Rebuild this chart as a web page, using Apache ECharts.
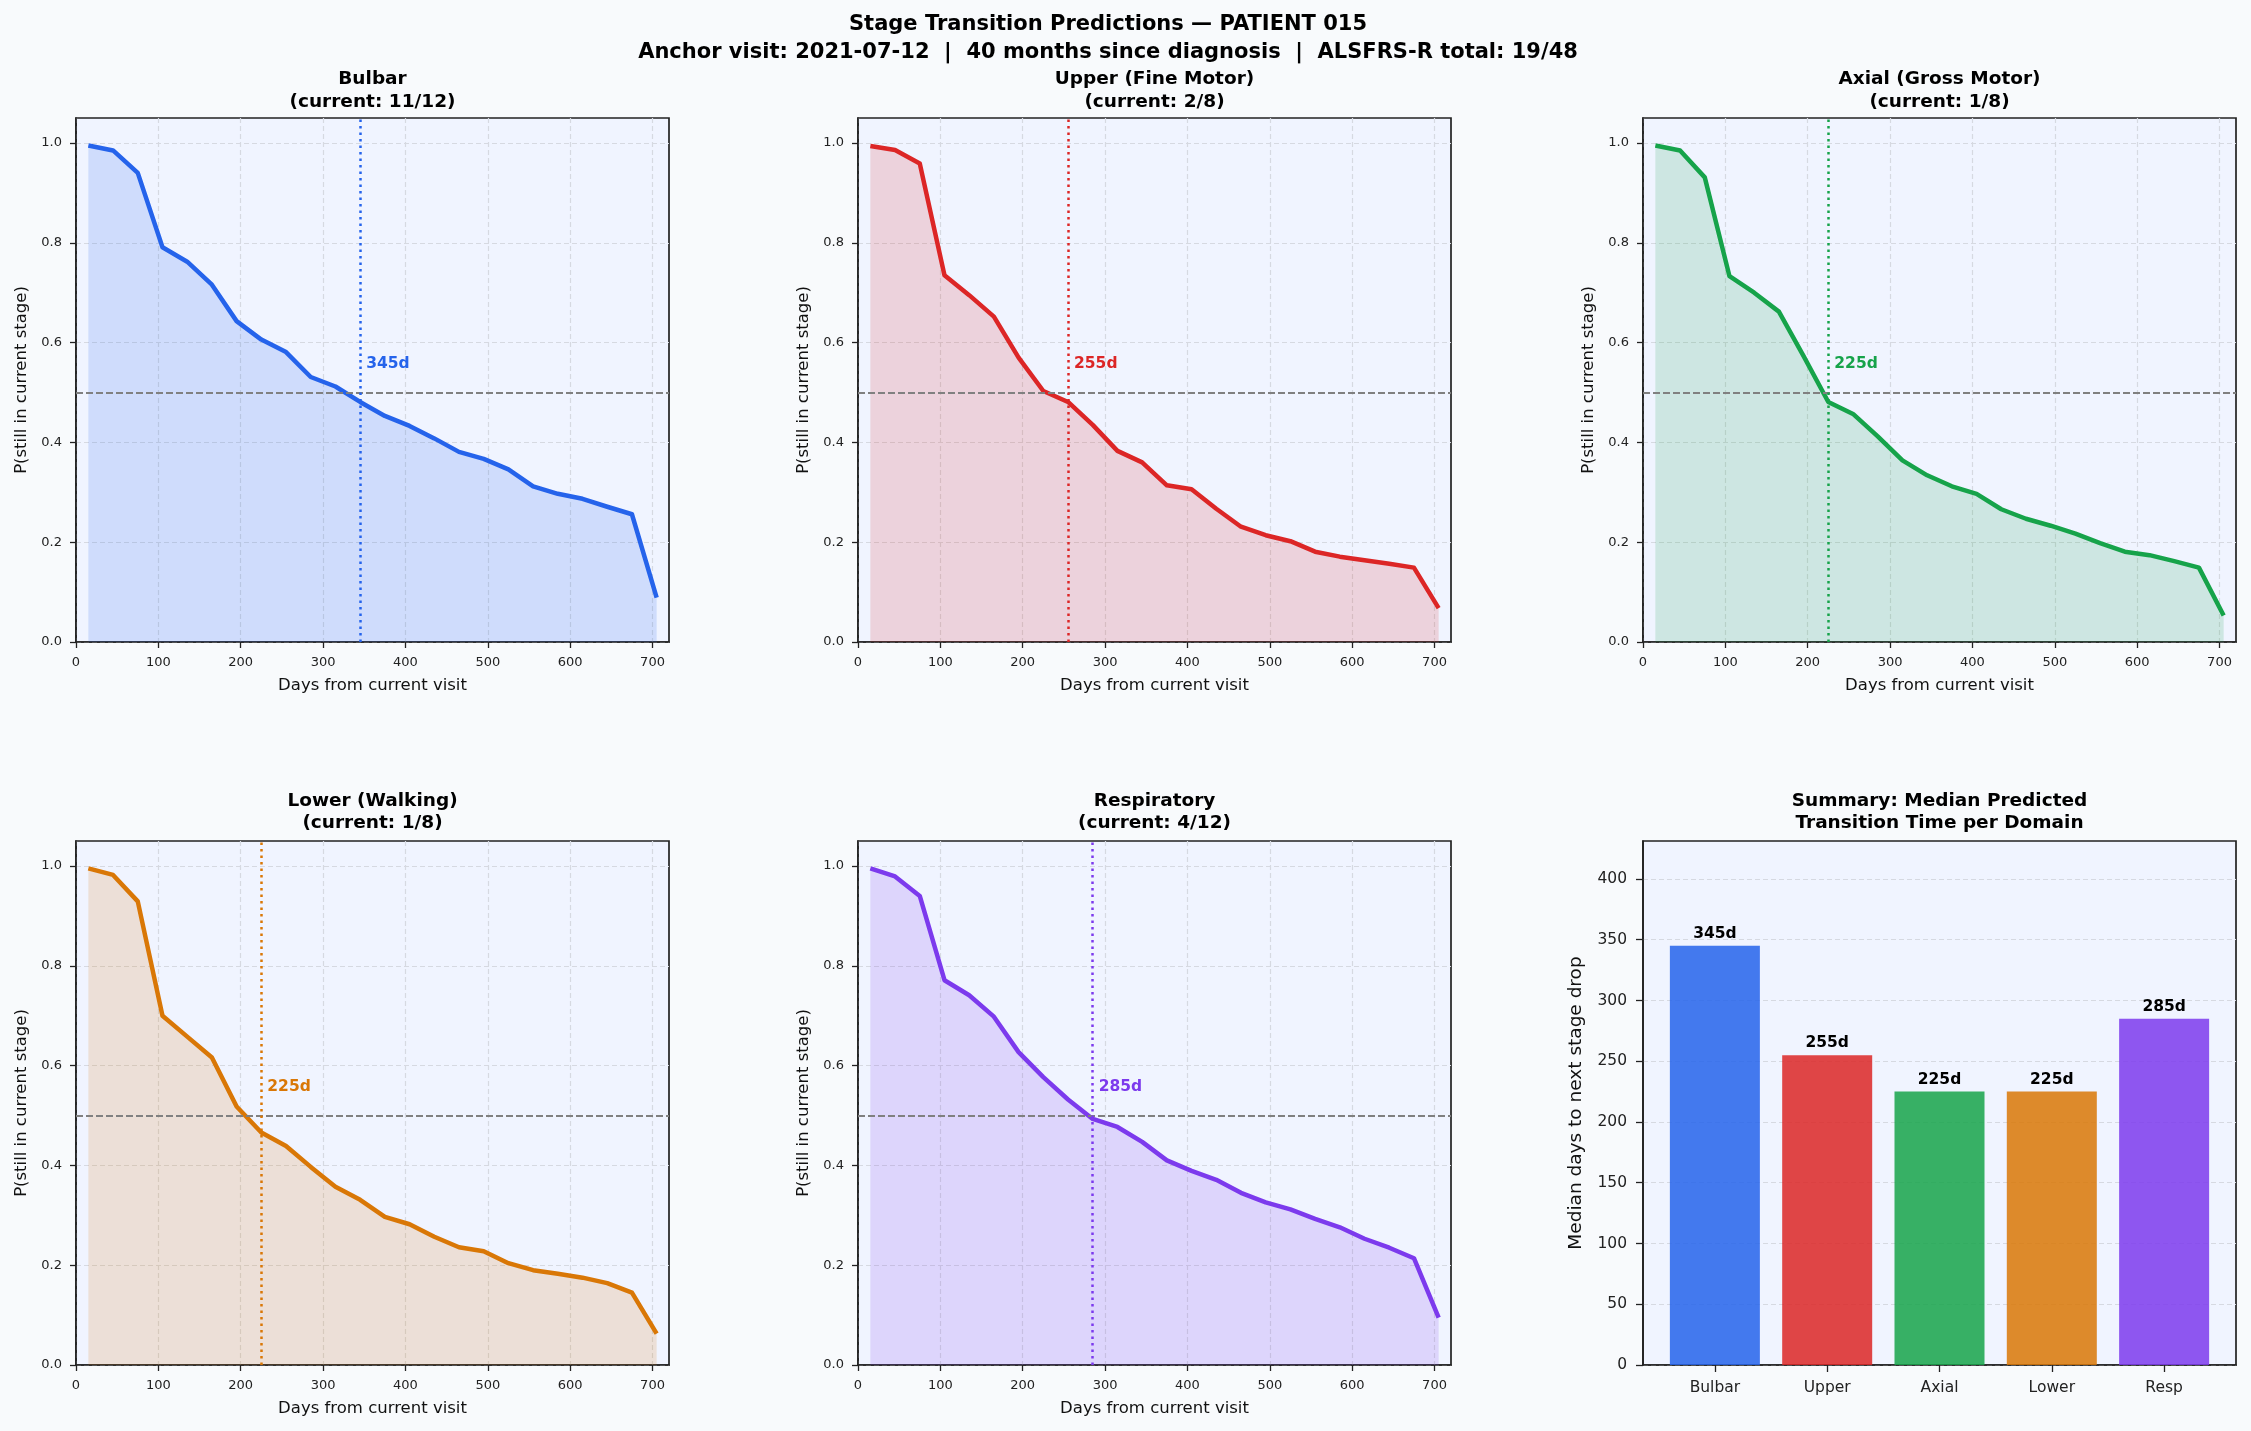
<!DOCTYPE html>
<html>
<head>
<meta charset="utf-8">
<script src="https://cdn.jsdelivr.net/npm/echarts@6/dist/echarts.min.js"></script>
<style>
html,body{margin:0;padding:0;background:#f8fafc;}
#chart{width:2251px;height:1431px;}
</style>
</head>
<body>
<div id="chart"></div>
<script>
// ---------------- DATA ----------------
const days = [15,45,75,105,135,165,195,225,255,285,315,345,375,405,435,465,495,525,555,585,615,645,675,705];
const bulbar = [0.995,0.985,0.940,0.791,0.762,0.716,0.643,0.606,0.581,0.531,0.512,0.481,0.453,0.433,0.408,0.381,0.367,0.346,0.312,0.297,0.287,0.271,0.256,0.089];
const upper  = [0.994,0.986,0.959,0.735,0.695,0.652,0.570,0.503,0.481,0.435,0.383,0.360,0.314,0.306,0.267,0.231,0.214,0.202,0.181,0.171,0.164,0.157,0.149,0.068];
const axial  = [0.995,0.985,0.931,0.733,0.700,0.662,0.573,0.481,0.457,0.412,0.364,0.334,0.312,0.297,0.266,0.247,0.233,0.217,0.198,0.181,0.174,0.162,0.149,0.053];
const lower  = [0.995,0.982,0.929,0.700,0.658,0.616,0.518,0.466,0.439,0.397,0.357,0.331,0.297,0.282,0.257,0.236,0.228,0.204,0.190,0.183,0.175,0.164,0.145,0.063];
const resp   = [0.995,0.979,0.940,0.771,0.741,0.698,0.627,0.577,0.532,0.493,0.477,0.447,0.410,0.389,0.371,0.345,0.326,0.312,0.293,0.276,0.253,0.235,0.214,0.095];
const medians = [345,255,225,225,285];
const domainNames = ['Bulbar','Upper','Axial','Lower','Resp'];
const panelNames = ['Bulbar','Upper (Fine Motor)','Axial (Gross Motor)','Lower (Walking)','Respiratory'];
const currentScores = ['11/12','2/8','1/8','1/8','4/12'];
const xTicks = [0,100,200,300,400,500,600,700];
const yTicks = [0,0.2,0.4,0.6,0.8,1.0];
const barTicks = [0,50,100,150,200,250,300,350,400];
const threshold = 0.5;
const annotY = 0.558;
const suptitle1 = 'Stage Transition Predictions \u2014 PATIENT 015';
const suptitle2 = 'Anchor visit: 2021-07-12  |  40 months since diagnosis  |  ALSFRS-R total: 19/48';
const barTitle = ['Summary: Median Predicted','Transition Time per Domain'];

// ---------------- STYLE ----------------
const series5 = [bulbar, upper, axial, lower, resp];
const COLORS = ['#2563eb','#dc2626','#16a34a','#d97706','#7c3aed'];
const FONT = '"DejaVu Sans", Verdana, sans-serif';
function rgba(hex, a){
  const r=parseInt(hex.slice(1,3),16), g=parseInt(hex.slice(3,5),16), b=parseInt(hex.slice(5,7),16);
  return 'rgba('+r+','+g+','+b+','+a+')';
}
const colLeft = [76, 858, 1643];
const colW = 593;
const rowTop = [118, 841];
const rowH = 524;
const gridPos = [[0,0],[0,1],[0,2],[1,0],[1,1],[1,2]];
const grids = gridPos.map(([r,c]) => ({
  left: colLeft[c], top: rowTop[r], width: colW, height: rowH,
  show: true, backgroundColor: '#f0f4ff', borderColor: '#222', borderWidth: 1.7,
  containLabel: false, outerBoundsMode: 'none'
}));

const axisLineStyle = {show: true, onZero: false, lineStyle: {color: '#222', width: 1.7}};
const gridLineStyle = {color: '#d6d9e1', type: [5,3], width: 1.2};

const xAxes = [], yAxes = [], series = [], graphics = [];

for (let i = 0; i < 5; i++) {
  xAxes.push({
    gridIndex: i, type: 'value', min: 0, max: 720, interval: 100,
    name: 'Days from current visit', nameLocation: 'middle', nameGap: 35,
    nameTextStyle: {fontSize: 16.5, color: '#111', fontFamily: FONT},
    axisLine: axisLineStyle,
    axisTick: {show: true, length: 6, lineStyle: {color: '#222', width: 1.3}, customValues: xTicks},
    axisLabel: {fontSize: 13, color: '#222', margin: 14, fontFamily: FONT, customValues: xTicks},
    splitLine: {show: true, lineStyle: gridLineStyle}
  });
  yAxes.push({
    gridIndex: i, type: 'value', min: 0, max: 1.05, interval: 0.2,
    name: 'P(still in current stage)', nameLocation: 'middle', nameGap: 46,
    nameTextStyle: {fontSize: 16.5, color: '#111', fontFamily: FONT},
    axisLine: axisLineStyle,
    axisTick: {show: true, length: 6, lineStyle: {color: '#222', width: 1.3}, customValues: yTicks},
    axisLabel: {fontSize: 13, color: '#222', margin: 14, fontFamily: FONT, customValues: yTicks,
      formatter: v => Number(v).toFixed(1)},
    splitLine: {show: true, lineStyle: gridLineStyle}
  });
  const col = COLORS[i];
  series.push({
    type: 'line', xAxisIndex: i, yAxisIndex: i,
    data: days.map((d,k) => [d, series5[i][k]]),
    symbol: 'none', smooth: false, z: 3,
    lineStyle: {color: col, width: 4.5, join: 'round'},
    itemStyle: {color: col},
    areaStyle: {color: rgba(col, 0.16), opacity: 1},
    markLine: {
      silent: true, symbol: 'none', animation: false, label: {show: false},
      data: [
        {yAxis: threshold, lineStyle: {color: '#808080', type: [7,3], width: 1.8, opacity: 1}},
        {xAxis: medians[i], lineStyle: {color: col, type: [2.5,4], width: 2.5, cap: 'butt', opacity: 1}}
      ]
    },
    animation: false
  });
  series.push({
    type: 'scatter', xAxisIndex: i, yAxisIndex: i, silent: true, z: 5,
    data: [[medians[i], annotY]],
    symbolSize: 0, itemStyle: {color: col, opacity: 1},
    label: {show: true, position: 'right', distance: 6, opacity: 1,
      formatter: medians[i] + 'd', color: col, fontWeight: 'bold', fontSize: 15.5, fontFamily: FONT},
    animation: false
  });
  const [r,c] = gridPos[i];
  const cx = colLeft[c] + colW/2;
  const ty = r === 0 ? 79.5 : 801;
  graphics.push({type:'text', x: cx, y: ty, style:{text: panelNames[i], fontSize: 18.5, fontWeight:'bold', fontFamily: FONT, fill:'#000', align:'center', verticalAlign:'middle'}});
  graphics.push({type:'text', x: cx, y: ty + 22.5, style:{text: '(current: ' + currentScores[i] + ')', fontSize: 18.5, fontWeight:'bold', fontFamily: FONT, fill:'#000', align:'center', verticalAlign:'middle'}});
}

// Bar panel
xAxes.push({
  gridIndex: 5, type: 'value', min: -0.64, max: 4.64,
  axisLine: axisLineStyle,
  axisTick: {show: true, length: 7, lineStyle: {color: '#222', width: 1.3}, customValues: [0,1,2,3,4]},
  axisLabel: {fontSize: 15.5, color: '#222', margin: 15, fontFamily: FONT, customValues: [0,1,2,3,4],
    formatter: v => domainNames[Math.round(v)] || ''},
  splitLine: {show: false}
});
yAxes.push({
  gridIndex: 5, type: 'value', min: 0, max: 431.25, interval: 50,
  name: 'Median days to next stage drop', nameLocation: 'middle', nameGap: 57,
  nameTextStyle: {fontSize: 18.5, color: '#111', fontFamily: FONT},
  axisLine: axisLineStyle,
  axisTick: {show: true, length: 7, lineStyle: {color: '#222', width: 1.3}, customValues: barTicks},
  axisLabel: {fontSize: 15.5, color: '#222', margin: 16, fontFamily: FONT, customValues: barTicks},
  splitLine: {show: true, lineStyle: gridLineStyle}
});
series.push({
  type: 'bar', xAxisIndex: 5, yAxisIndex: 5, barWidth: 90, z: 3,
  data: medians.map((m,k) => ({value: [k, m], itemStyle: {color: rgba(COLORS[k], 0.85)}})),
  label: {show: true, position: 'top', distance: 4, formatter: p => p.value[1] + 'd',
    fontWeight: 'bold', fontSize: 15.5, color: '#000', fontFamily: FONT},
  animation: false
});
const bcx = colLeft[2] + colW/2;
graphics.push({type:'text', x: bcx, y: 801, style:{text: barTitle[0], fontSize: 18.5, fontWeight:'bold', fontFamily: FONT, fill:'#000', align:'center', verticalAlign:'middle'}});
graphics.push({type:'text', x: bcx, y: 823.5, style:{text: barTitle[1], fontSize: 18.5, fontWeight:'bold', fontFamily: FONT, fill:'#000', align:'center', verticalAlign:'middle'}});

// Suptitle
graphics.push({type:'text', x: 1108, y: 25, style:{text: suptitle1, fontSize: 21, fontWeight:'bold', fontFamily: FONT, fill:'#000', align:'center', verticalAlign:'middle'}});
graphics.push({type:'text', x: 1108, y: 53, style:{text: suptitle2, fontSize: 21, fontWeight:'bold', fontFamily: FONT, fill:'#000', align:'center', verticalAlign:'middle'}});

const chart = echarts.init(document.getElementById('chart'), null, {renderer: 'canvas'});
chart.setOption({
  backgroundColor: '#f8fafc',
  animation: false,
  textStyle: {fontFamily: FONT},
  grid: grids,
  xAxis: xAxes,
  yAxis: yAxes,
  series: series,
  graphic: graphics
});
</script>
</body>
</html>
